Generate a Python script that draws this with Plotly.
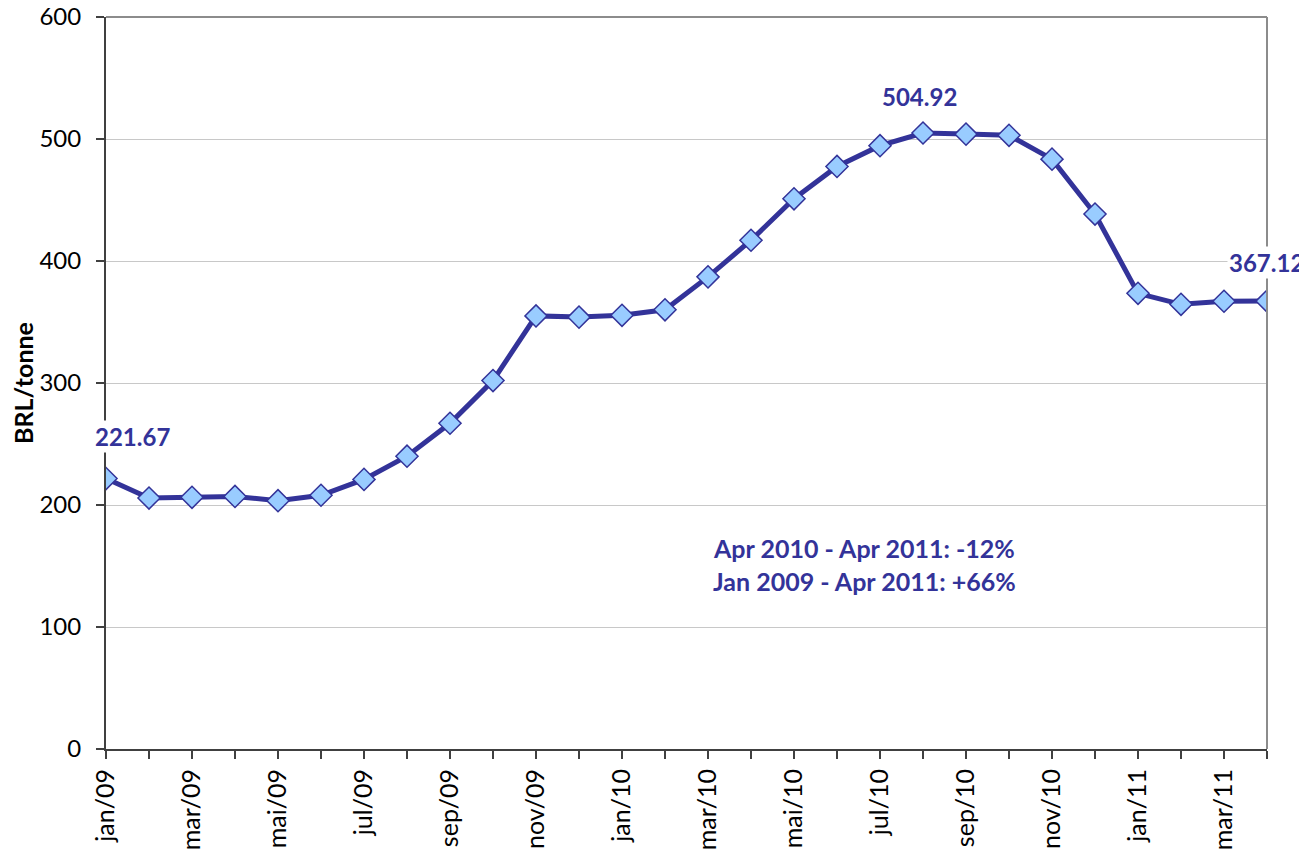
import plotly.graph_objects as go

months = ["jan/09", "fev/09", "mar/09", "abr/09", "mai/09", "jun/09", "jul/09", "ago/09",
          "sep/09", "out/09", "nov/09", "dez/09", "jan/10", "fev/10", "mar/10", "abr/10",
          "mai/10", "jun/10", "jul/10", "ago/10", "sep/10", "out/10", "nov/10", "dez/10",
          "jan/11", "fev/11", "mar/11", "abr/11"]
prices = [221.67, 205.7, 206.3, 207.0, 203.5, 208.0, 221.0, 240.0,
          267.0, 302.0, 355.0, 354.0, 355.5, 360.0, 387.0, 417.0,
          451.0, 477.5, 494.5, 504.92, 504.0, 503.0, 483.5, 438.5,
          373.5, 364.5, 367.0, 367.12]
tick_text = [m if i % 2 == 0 else "" for i, m in enumerate(months)]
y_ticks = [0, 100, 200, 300, 400, 500, 600]

navy = "#333399"
font_family = "Lato, 'Open Sans', sans-serif"

fig = go.Figure()
fig.add_trace(go.Scatter(
    x=months, y=prices, mode="lines+markers",
    line=dict(color=navy, width=5),
    marker=dict(symbol="diamond", size=17, color="#99CCFF",
                line=dict(color=navy, width=1.5)),
    showlegend=False, hoverinfo="x+y"))

ann_font = dict(family=font_family, size=24, color=navy, weight="bold")
fig.add_annotation(x=months[0], y=prices[0], text="221.67", showarrow=False,
                   xanchor="center", yanchor="middle",
                   xshift=26, yshift=42, font=ann_font, bgcolor="white")
fig.add_annotation(x=months[19], y=prices[19], text="504.92", showarrow=False,
                   xanchor="center", yanchor="middle",
                   xshift=-4, yshift=37, font=ann_font, bgcolor="white")
fig.add_annotation(x=months[27], y=prices[27], text="367.12", showarrow=False,
                   xanchor="center", yanchor="middle",
                   xshift=-1, yshift=39, font=ann_font, bgcolor="white")

box_font = dict(family=font_family, size=25, color=navy, weight="bold")
fig.add_annotation(xref="paper", yref="paper", x=0.653, y=0.2746,
                   xanchor="center", yanchor="middle",
                   text="Apr 2010 - Apr 2011: -12%", showarrow=False, font=box_font)
fig.add_annotation(xref="paper", yref="paper", x=0.653, y=0.2295,
                   xanchor="center", yanchor="middle",
                   text="Jan 2009 - Apr 2011: +66%", showarrow=False, font=box_font)

# top and right frame lines
fig.add_shape(type="line", xref="paper", yref="paper", x0=0, x1=1, y0=1, y1=1,
              line=dict(color="#8c8c8c", width=2))
fig.add_shape(type="line", xref="paper", yref="paper", x0=1, x1=1, y0=0, y1=1,
              line=dict(color="#8c8c8c", width=2))

fig.update_layout(
    width=1299, height=848,
    margin=dict(l=98, r=40, t=9, b=107, autoexpand=False),
    paper_bgcolor="white", plot_bgcolor="white",
    font=dict(family=font_family, size=24, color="black"),
    xaxis=dict(type="category", range=[0, 27], tickmode="array",
               tickvals=months, ticktext=tick_text, tickangle=-90,
               ticks="outside", ticklen=8, tickcolor="#404040", tickwidth=1.5,
               showline=True, linecolor="#404040", linewidth=2,
               showgrid=False, zeroline=False, automargin=False,
               ticklabeloverflow="allow",
               tickfont=dict(family=font_family, size=25, color="black")),
    yaxis=dict(range=[0, 600], tickmode="array", tickvals=y_ticks,
               ticks="outside", ticklen=8, tickcolor="#404040", tickwidth=1.5,
               showline=True, linecolor="#404040", linewidth=2,
               showgrid=True, gridcolor="#c8c8c8", gridwidth=1, zeroline=False,
               automargin=False, ticklabelstandoff=10, ticklabeloverflow="allow",
               tickfont=dict(family=font_family, size=24, color="black"),
               title=dict(text="<b>BRL/tonne</b>", standoff=20,
                          font=dict(family=font_family, size=25, color="black"))),
)

fig.write_html("out.html")
